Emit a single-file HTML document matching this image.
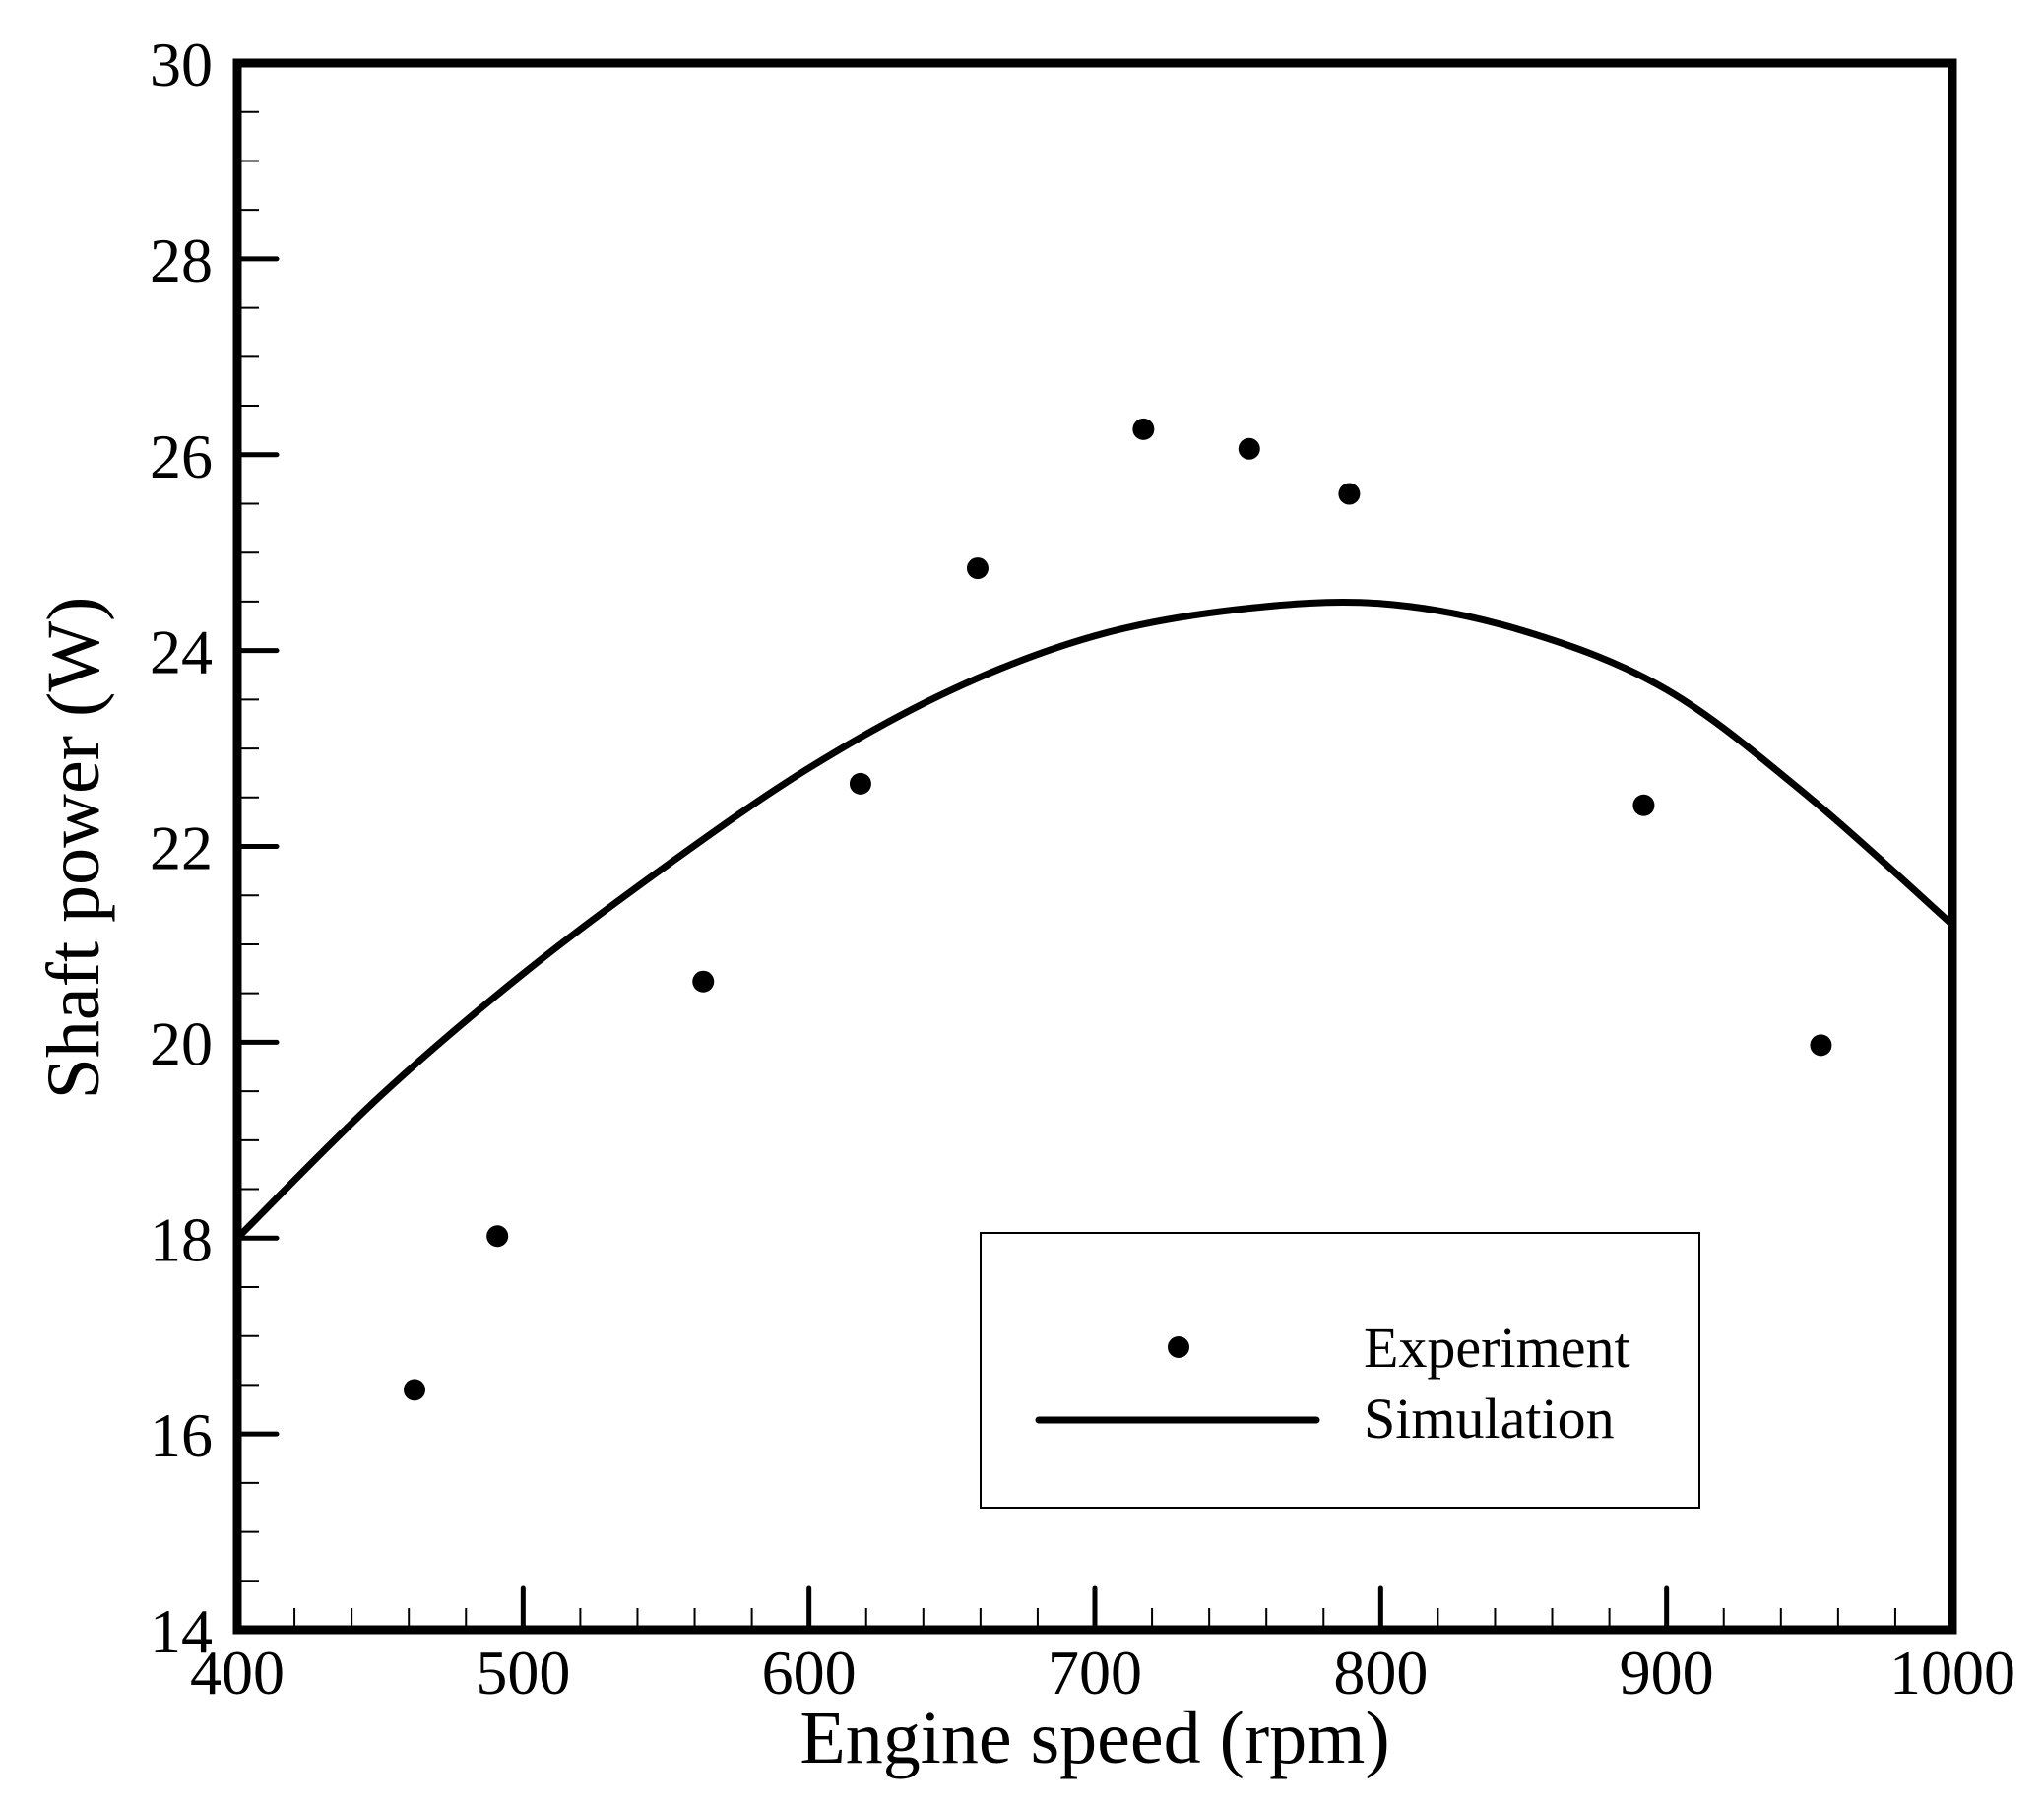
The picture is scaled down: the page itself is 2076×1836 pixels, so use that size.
<!DOCTYPE html>
<html><head><meta charset="utf-8"><style>
html,body{margin:0;padding:0;background:#fff;}
svg{display:block;font-family:"Liberation Serif",serif;}
</style></head><body>
<svg id="chart" width="2076" height="1836" viewBox="0 0 2076 1836" xmlns="http://www.w3.org/2000/svg">
<g id="ticks"></g>
<g id="marks"></g>
<rect x="241" y="64" width="1742" height="1591" fill="none" stroke="#000" stroke-width="9"/>
<text x="1112" y="1790" font-size="76" text-anchor="middle">Engine speed (rpm)</text>
<text transform="translate(100,861) rotate(-90)" font-size="76" text-anchor="middle">Shaft power (W)</text>
<g>
<rect x="996" y="1252" width="730" height="279" fill="#fff" stroke="#000" stroke-width="2"/>
<circle cx="1197" cy="1368" r="11" fill="#000"/>
<line x1="1055" y1="1442" x2="1337" y2="1442" stroke="#000" stroke-width="7" stroke-linecap="round"/>
<text x="1385" y="1388" font-size="58">Experiment</text>
<text x="1385" y="1460" font-size="58">Simulation</text>
</g>
</svg>
<script>
const expSpeed = [462, 491, 563, 618, 659, 717, 754, 789, 892, 954];
const expPower = [16.45, 18.02, 20.62, 22.64, 24.84, 26.26, 26.06, 25.6, 22.42, 19.97];
const simSpeed = [400, 450, 500, 550, 600, 650, 700, 750, 800, 850, 900, 950, 1000];
const simPower = [18.0, 19.45, 20.7, 21.8, 22.8, 23.6, 24.15, 24.42, 24.48, 24.2, 23.6, 22.5, 21.2];
const xTicks = [400, 500, 600, 700, 800, 900, 1000];
const yTicks = [14, 16, 18, 20, 22, 24, 26, 28, 30];

const L=241,R=1983,T=64,B=1655;
const xs=v=>L+(v-400)/600*(R-L);
const ys=v=>B-(v-14)/16*(B-T);
const NS="http://www.w3.org/2000/svg";
const tk=document.getElementById('ticks'), mk=document.getElementById('marks');
function mkEl(tag,attrs,parent){const e=document.createElementNS(NS,tag);for(const k in attrs)e.setAttribute(k,attrs[k]);parent.appendChild(e);return e;}

for(let v=14;v<=30.001;v+=0.5){
  const major=Math.abs(v-Math.round(v/2)*2)<1e-6;
  const y=ys(v);
  const ln=mkEl('line',{x1:L,y1:y,x2:L+(major?40:22),y2:y,stroke:'#000','stroke-width':major?5:2,'stroke-linecap':major?'round':'butt'},tk);
  
  
}
yTicks.forEach(v=>{
  const t=mkEl('text',{x:216,y:ys(v)+23,'font-size':64,'text-anchor':'end'},tk);
  t.textContent=v;
  
  
});
for(let v=400;v<=1000;v+=20){
  const major=v%100===0;
  const x=xs(v);
  const ln=mkEl('line',{x1:x,y1:B,x2:x,y2:B-(major?42:22),stroke:'#000','stroke-width':major?5:2,'stroke-linecap':major?'round':'butt'},tk);
  
  
}
xTicks.forEach(v=>{
  const t=mkEl('text',{x:xs(v),y:1720,'font-size':64,'text-anchor':'middle'},tk);
  t.textContent=v;
  
  
});
const pts=simSpeed.map((s,i)=>[xs(s),ys(simPower[i])]);
let d='M'+pts[0][0]+','+pts[0][1];
for(let i=0;i<pts.length-1;i++){
  const p0=pts[Math.max(0,i-1)],p1=pts[i],p2=pts[i+1],p3=pts[Math.min(pts.length-1,i+2)];
  const c1=[p1[0]+(p2[0]-p0[0])/6,p1[1]+(p2[1]-p0[1])/6];
  const c2=[p2[0]-(p3[0]-p1[0])/6,p2[1]-(p3[1]-p1[1])/6];
  d+=' C'+c1[0]+','+c1[1]+' '+c2[0]+','+c2[1]+' '+p2[0]+','+p2[1];
}
const path=mkEl('path',{d:d,fill:'none',stroke:'#000','stroke-width':7},mk);


expSpeed.forEach((s,i)=>{
  const c=mkEl('circle',{cx:xs(s),cy:ys(expPower[i]),r:11,fill:'#000'},mk);
  
  
});
</script>
</body></html>
